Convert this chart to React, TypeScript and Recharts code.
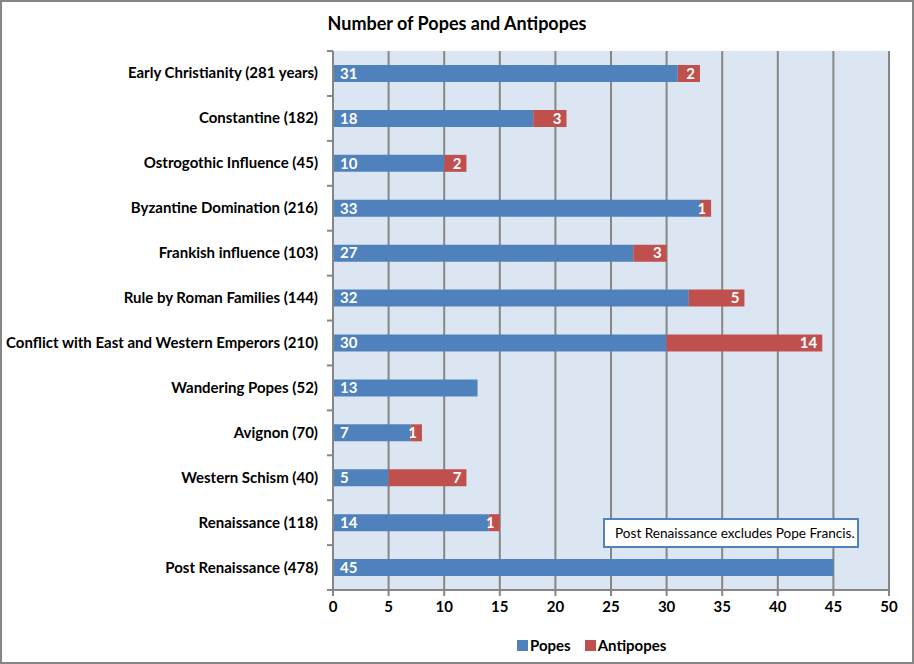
import React from 'react';
import { BarChart, Bar, XAxis, YAxis, CartesianGrid, Legend, LabelList } from 'recharts';

const eras = [
  'Early Christianity (281 years)',
  'Constantine (182)',
  'Ostrogothic Influence (45)',
  'Byzantine Domination (216)',
  'Frankish influence (103)',
  'Rule by Roman Families (144)',
  'Conflict with East and Western Emperors (210)',
  'Wandering Popes (52)',
  'Avignon (70)',
  'Western Schism (40)',
  'Renaissance (118)',
  'Post Renaissance (478)',
];
const popes = [31, 18, 10, 33, 27, 32, 30, 13, 7, 5, 14, 45];
const antipopes = [2, 3, 2, 1, 3, 5, 14, 0, 1, 7, 1, 0];
const xTicks = [0, 5, 10, 15, 20, 25, 30, 35, 40, 45, 50];
const seriesNames = ['Popes', 'Antipopes'];
const seriesColors = ['#4f81bd', '#c0504d'];

const data = eras.map((era, i) => ({ era, Popes: popes[i], Antipopes: antipopes[i] }));

const FONT = 'Lato, "Open Sans", sans-serif';
const BAND = 538 / eras.length;

const CategoryTick = (props: any) => {
  const { x, y, payload, index } = props;
  return (
    <g>
      <line x1={x + 2} x2={x + 8} y1={y - BAND / 2} y2={y - BAND / 2} stroke="#868686" strokeWidth={2} />
      {index === eras.length - 1 && (
        <line x1={x + 2} x2={x + 8} y1={y + BAND / 2} y2={y + BAND / 2} stroke="#868686" strokeWidth={2} />
      )}
      <text x={x - 7} y={y} dy={5} textAnchor="end" fontFamily={FONT} fontWeight="bold" fontSize={15} fill="#000">
        {payload.value}
      </text>
    </g>
  );
};

const XTick = (props: any) => {
  const { x, y, payload } = props;
  return (
    <text x={x} y={y} dy={14} textAnchor="middle" fontFamily={FONT} fontWeight="bold" fontSize={15} fill="#000">
      {payload.value}
    </text>
  );
};

const LegendContent = () => (
  <div style={{ display: 'flex', justifyContent: 'flex-start', gap: 14, fontFamily: FONT, paddingLeft: 517 }}>
    {seriesNames.map((n, i) => (
      <div key={n} style={{ display: 'flex', alignItems: 'center' }}>
        <span style={{ width: 11, height: 11, background: seriesColors[i], display: 'inline-block', marginRight: 2 }} />
        <span style={{ color: '#000', fontWeight: 'bold', fontSize: 15 }}>{n}</span>
      </div>
    ))}
  </div>
);

const fmt = (v: any) => (v ? v : '');

export default function App() {
  return (
    <div
      style={{
        position: 'absolute',
        left: 0,
        top: 0,
        width: 914,
        height: 664,
        boxSizing: 'border-box',
        border: '2px solid #868686',
        background: '#fff',
        fontFamily: FONT,
      }}
    >
      <div
        style={{
          position: 'absolute',
          left: -2,
          top: 10,
          width: 914,
          textAlign: 'center',
          fontWeight: 'bold',
          fontSize: 18,
          color: '#000',
        }}
      >
        Number of Popes and Antipopes
      </div>
      <div style={{ position: 'absolute', left: -2, top: -2 }}>
        <BarChart
          width={914}
          height={664}
          data={data}
          layout="vertical"
          margin={{ top: 51, right: 25, bottom: 21, left: 0 }}
          barSize={17}
        >
          <CartesianGrid horizontal={false} vertical={true} stroke="#868686" strokeWidth={2} fill="#dce6f2" fillOpacity={1} />
          <XAxis
            type="number"
            domain={[0, 50]}
            ticks={xTicks}
            interval={0}
            axisLine={{ stroke: '#868686', strokeWidth: 2 }}
            tickLine={{ stroke: '#868686', strokeWidth: 2 }}
            tickSize={6}
            tick={<XTick />}
            height={35}
          />
          <YAxis
            type="category"
            dataKey="era"
            width={333}
            axisLine={{ stroke: '#868686', strokeWidth: 2 }}
            tickLine={false}
            tick={<CategoryTick />}
            interval={0}
          />
          <Legend verticalAlign="bottom" content={<LegendContent />} wrapperStyle={{ bottom: 10 }} />
          <Bar dataKey="Popes" stackId="a" fill={seriesColors[0]} isAnimationActive={false}>
            <LabelList
              dataKey="Popes"
              position="insideLeft"
              offset={7}
              formatter={fmt}
              fill="#fff"
              fontFamily={FONT}
              fontWeight="bold"
              fontSize={15}
            />
          </Bar>
          <Bar dataKey="Antipopes" stackId="a" fill={seriesColors[1]} isAnimationActive={false}>
            <LabelList
              dataKey="Antipopes"
              position="insideRight"
              offset={5}
              formatter={fmt}
              fill="#fff"
              fontFamily={FONT}
              fontWeight="bold"
              fontSize={15}
            />
          </Bar>
        </BarChart>
      </div>
      <div
        style={{
          position: 'absolute',
          left: 601,
          top: 516,
          width: 256,
          height: 30,
          boxSizing: 'border-box',
          border: '2px solid #4f81bd',
          background: '#fff',
          fontSize: 13.6,
          lineHeight: '26px',
          paddingLeft: 10,
          color: '#000',
          whiteSpace: 'nowrap',
        }}
      >
        Post Renaissance excludes Pope Francis.
      </div>
    </div>
  );
}
